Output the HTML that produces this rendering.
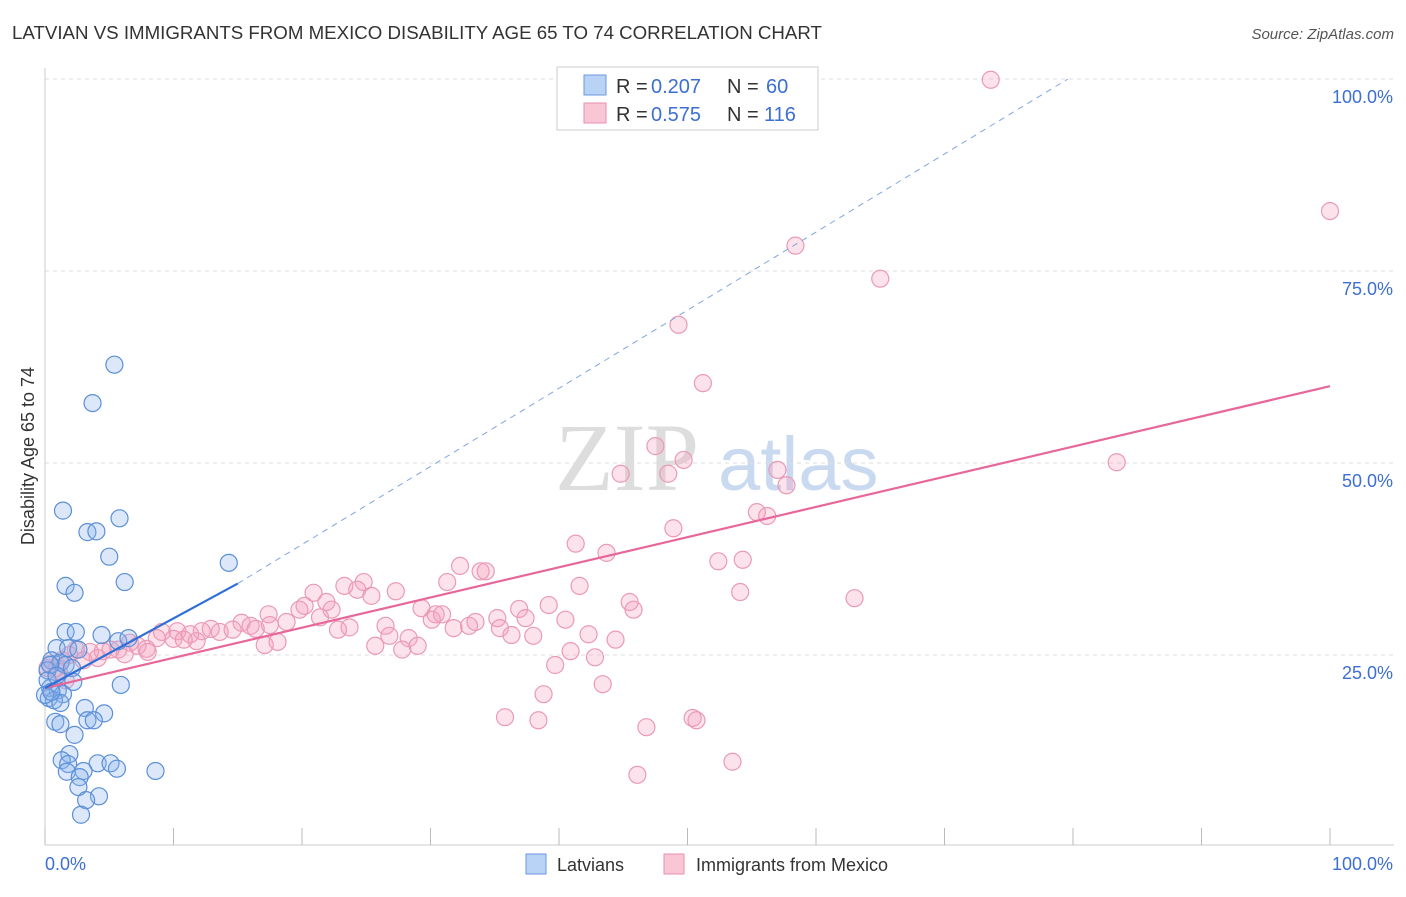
<!DOCTYPE html>
<html><head><meta charset="utf-8"><style>
body{margin:0;background:#fff;font-family:"Liberation Sans",sans-serif}
</style></head><body>
<svg id="chart" width="1406" height="892" xmlns="http://www.w3.org/2000/svg">
<text x="12" y="39" font-size="18.7" fill="#333">LATVIAN VS IMMIGRANTS FROM MEXICO DISABILITY AGE 65 TO 74 CORRELATION CHART</text>
<text x="1394" y="39" font-size="15" fill="#555" font-style="italic" text-anchor="end">Source: ZipAtlas.com</text>
<text x="555" y="490" font-size="96" fill="#ddd" font-family="Liberation Serif,serif">ZIP</text>
<text x="718" y="490" font-size="76" fill="#c9daf0">atlas</text>
<text transform="translate(34,456) rotate(-90)" font-size="18" fill="#333" text-anchor="middle">Disability Age 65 to 74</text>
<g id="grid"></g><g id="marks"></g>
<g>
<rect x="557" y="67" width="261" height="63" fill="#fff" stroke="#ccc"/>
<rect x="584" y="75" width="22" height="20" fill="#b8d3f5" stroke="#6b9ae0"/>
<rect x="584" y="103" width="22" height="20" fill="#f9c6d6" stroke="#e98fb0"/>
<text x="616" y="93" font-size="20" fill="#333">R =</text><text x="651" y="93" font-size="20" fill="#3c6fd1">0.207</text>
<text x="727" y="93" font-size="20" fill="#333">N =</text><text x="766" y="93" font-size="20" fill="#3c6fd1">60</text>
<text x="616" y="121" font-size="20" fill="#333">R =</text><text x="651" y="121" font-size="20" fill="#3c6fd1">0.575</text>
<text x="727" y="121" font-size="20" fill="#333">N =</text><text x="764" y="121" font-size="20" fill="#3c6fd1">116</text>
</g>
<g>
<rect x="526" y="854" width="20" height="20" fill="#b8d3f5" stroke="#6b9ae0"/>
<text x="557" y="871" font-size="18" fill="#333">Latvians</text>
<rect x="664" y="854" width="20" height="20" fill="#f9c6d6" stroke="#e98fb0"/>
<text x="696" y="871" font-size="18" fill="#333">Immigrants from Mexico</text>
</g>
</svg>
<script>
const yTicks=[25,50,75,100];
const yTickLabels=["25.0%","50.0%","75.0%","100.0%"];
const xTicks=[0,10,20,30,40,50,60,70,80,90,100];
const blueX=[5.4,3.7,1.4,5.8,3.3,4.0,5.0,6.2,1.6,2.3,14.3,1.6,2.4,0.9,1.8,2.6,4.4,5.7,6.5,0.5,1.2,1.6,2.1,0.2,5.9,2.2,0.4,1.0,1.4,0.3,0.7,1.2,3.1,4.6,3.3,3.8,0.8,1.2,2.3,1.9,1.3,1.8,4.1,5.1,8.6,5.6,1.7,3.0,2.7,2.6,4.2,3.2,2.8,0.4,0.2,0.9,0.0,0.5];
const blueY=[62.8,57.8,43.8,42.8,41.0,41.1,37.8,34.5,34.0,33.1,37.0,28.0,28.0,25.9,25.9,25.7,27.6,26.8,27.2,24.3,24.0,23.7,23.3,23.0,21.1,21.5,20.7,20.4,19.9,19.4,19.1,18.75,18.1,17.4,16.5,16.5,16.3,16.0,14.6,12.1,11.3,10.8,10.9,10.9,9.9,10.2,9.8,9.9,9.1,7.8,6.6,6.1,4.2,23.7,21.7,22.3,19.8,20.2];
const pinkX=[73.6,100,58.4,65.0,49.3,51.2,47.5,49.7,83.4,44.8,48.5,57.0,57.7,55.4,56.2,48.9,41.3,43.7,52.4,54.3,32.3,33.9,34.3,31.3,41.6,23.3,24.8,24.3,20.9,25.4,27.3,21.9,20.2,17.4,19.8,21.4,22.3,39.2,36.9,45.5,45.8,54.1,63.0,29.3,30.4,35.2,37.4,40.5,17.5,18.8,15.3,16.0,26.5,23.7,22.8,30.1,30.9,31.8,33.0,33.5,35.4,36.3,38.0,42.3,44.4,26.8,28.3,12.2,10.3,9.1,12.9,13.6,14.6,16.4,18.1,11.3,11.8,10.0,10.8,8.7,6.6,7.2,7.9,5.7,6.2,4.5,5.1,3.5,2.4,1.9,1.3,0.4,0.9,3.0,25.7,27.8,29.0,40.9,42.8,39.7,38.8,43.4,35.8,38.4,46.8,50.4,50.7,46.1,53.5,1.6,0.2,4.1,8.0,1.1,17.1];
const pinkY=[99.9,82.8,78.3,74.0,68.0,60.4,52.2,50.4,50.1,48.6,48.6,49.1,47.1,43.6,43.1,41.5,39.5,38.3,37.2,37.4,36.6,35.9,35.9,34.5,34.0,34.0,34.5,33.5,33.1,32.7,33.3,31.9,31.4,30.3,30.9,29.9,30.9,31.5,31.0,31.9,30.9,33.2,32.4,31.1,30.3,29.8,29.8,29.6,28.9,29.3,29.2,28.8,28.8,28.6,28.3,29.6,30.3,28.5,28.8,29.3,28.5,27.6,27.5,27.7,27.0,27.5,27.2,28.1,28.1,28.0,28.4,28.0,28.3,28.4,26.7,27.7,26.8,27.1,27.0,27.2,26.6,26.2,25.8,25.7,25.1,25.5,25.7,25.4,25.7,25.0,24.3,23.8,23.3,24.3,26.2,25.7,26.2,25.5,24.7,23.7,19.9,21.2,16.9,16.5,15.6,16.8,16.5,9.4,11.1,21.7,23.3,24.6,25.4,22.8,26.3];
const blueTrend=[[0,20.7],[15,34.3]];
const blueDash=[[15,34.3],[79.6,100]];
const pinkTrend=[[0,20.7],[100,60.0]];
const NS="http://www.w3.org/2000/svg";
const sx=v=>45+v*12.85, sy=v=>847-v*7.68;
function mk(t,a,p){const e=document.createElementNS(NS,t);for(const k in a)e.setAttribute(k,a[k]);p.appendChild(e);return e;}
const g=document.getElementById('grid'), m=document.getElementById('marks');
const ax=mk('line',{x1:45,y1:68,x2:45,y2:845,stroke:'#ccc'},g);


const bx=mk('line',{x1:45,y1:845,x2:1394,y2:845,stroke:'#ccc'},g);


yTicks.forEach((t,i)=>{
 const l=mk('line',{x1:45,x2:1394,y1:sy(t),y2:sy(t),stroke:'#ddd','stroke-dasharray':'4,4'},g);
 
 
 const tx=mk('text',{x:1393,y:sy(t)+24,'font-size':18,fill:'#3c6fd1','text-anchor':'end'},g);
 tx.textContent=yTickLabels[i];
 
 
});
xTicks.forEach(t=>{
 const l=mk('line',{x1:sx(t),x2:sx(t),y1:828,y2:845,stroke:'#bbb'},g);
 
 
});
const x0=mk('text',{x:45,y:870,'font-size':18,fill:'#3c6fd1'},g);x0.textContent='0.0%';


const x1=mk('text',{x:1393,y:870,'font-size':18,fill:'#3c6fd1','text-anchor':'end'},g);x1.textContent='100.0%';


pinkX.forEach((x,i)=>{
 const c=mk('circle',{cx:sx(x),cy:sy(pinkY[i]),r:8.5,fill:'rgba(244,160,190,0.3)',stroke:'#eb9ab6','stroke-width':1.2},m);
 
 
});
blueX.forEach((x,i)=>{
 const c=mk('circle',{cx:sx(x),cy:sy(blueY[i]),r:8.5,fill:'rgba(140,180,235,0.3)',stroke:'#5b8fd8','stroke-width':1.2},m);
 
 
});
function line(p,col,w,dash,name){
 const l=mk('line',{x1:sx(p[0][0]),y1:sy(p[0][1]),x2:sx(p[1][0]),y2:sy(p[1][1]),stroke:col,'stroke-width':w},m);
 if(dash)l.setAttribute('stroke-dasharray',dash);
 
 
}
line(pinkTrend,'#e8679a',2.2,null,'mexico-trend-line');
line(blueDash,'#7fa6e0',1,'6,5','latvian-trend-extension');
line(blueTrend,'#2f6fd6',2.2,null,'latvian-trend-line');
</script>
</body></html>
